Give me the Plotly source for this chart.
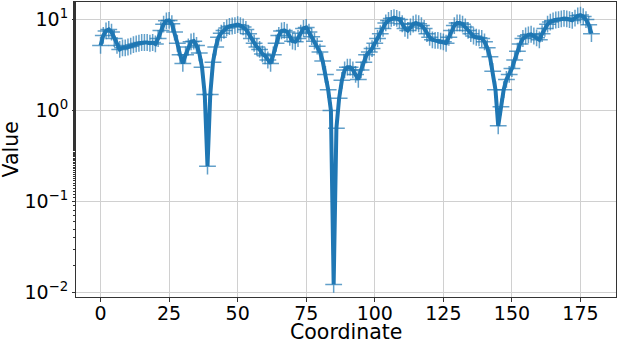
import plotly.graph_objects as go

coordinate = list(range(180))
value = [
    5.2, 6.7, 7.5, 7.8, 7.3, 6.2, 5.2, 4.7, 4.9, 4.9,
    5.0, 5.1, 5.3, 5.4, 5.5, 5.6, 5.6, 5.6, 5.5, 5.6,
    5.4, 6.2, 7.6, 8.9, 9.7, 9.8, 9.0, 7.3, 5.5, 4.1,
    3.3, 4.1, 5.0, 5.7, 5.8, 5.2, 4.3, 3.0, 1.5, 0.245,
    1.5, 3.4, 5.0, 6.4, 7.1, 7.6, 8.1, 8.4, 8.5, 8.6,
    8.8, 8.6, 8.3, 7.8, 7.0, 6.2, 5.5, 5.0, 4.7, 4.2,
    4.0, 3.6, 3.3, 4.1, 5.5, 6.7, 7.5, 7.6, 7.3, 6.4,
    5.8, 5.7, 6.2, 7.1, 8.0, 8.2, 7.3, 6.5, 5.8, 5.1,
    4.4, 3.5, 2.5, 1.7, 1.0, 0.0123, 0.64, 1.37, 2.15, 2.8,
    3.0, 3.0, 2.8, 2.5, 2.2, 2.8, 3.4, 4.1, 4.4, 4.8,
    5.5, 6.2, 7.0, 8.0, 9.2, 9.8, 10.3, 10.5, 10.3, 10.0,
    9.0, 8.0, 7.6, 8.3, 8.9, 9.2, 9.0, 8.6, 8.0, 7.0,
    6.4, 6.0, 5.9, 5.9, 5.8, 5.7, 5.5, 6.4, 7.6, 8.6,
    9.2, 9.2, 8.9, 8.3, 7.6, 7.0, 6.6, 6.4, 6.3, 6.2,
    5.7, 4.9, 3.9, 2.7, 1.7, 0.68, 1.1, 1.7, 2.2, 2.5,
    2.9, 3.6, 4.5, 5.4, 6.2, 6.6, 6.8, 6.9, 6.6, 6.3,
    6.0, 7.0, 8.0, 8.9, 9.4, 9.7, 9.9, 10.0, 10.2, 10.3,
    10.2, 10.0, 9.8, 10.4, 11.0, 11.2, 10.8, 10.0, 8.8, 7.0,
]

x_ticks = [0, 25, 50, 75, 100, 125, 150, 175]
y_ticks = [0.01, 0.1, 1, 10]
y_tick_text = ["10<sup>\u22122</sup>", "10<sup>\u22121</sup>", "10<sup>0</sup>", "10<sup>1</sup>"]
x_title = "Coordinate"
y_title = "Value"

FONT = "DejaVu Sans"
C0 = "#1f77b4"

fig = go.Figure()
fig.add_trace(go.Scatter(
    x=coordinate, y=value, mode="lines+markers",
    line=dict(color=C0, width=4),
    marker=dict(symbol="cross-thin", size=12,
                line=dict(color="rgba(31,119,180,0.7)", width=1.5)),
    showlegend=False, hoverinfo="skip",
))

fig.update_layout(
    template="none",
    width=618, height=342,
    margin=dict(l=76, r=2, t=2, b=45),
    paper_bgcolor="white", plot_bgcolor="white",
    font=dict(family=FONT, color="black", size=19),
    annotations=[
        dict(text=x_title, xref="paper", yref="paper", x=0.5, y=-(332 - 296.7) / 295,
             xanchor="center", yanchor="middle", showarrow=False,
             font=dict(size=20.5, family=FONT, color="black")),
        dict(text=y_title, xref="paper", yref="paper", x=(10 - 76) / 540, y=0.5,
             xanchor="center", yanchor="middle", textangle=-90, showarrow=False,
             font=dict(size=20.5, family=FONT, color="black")),
    ],
)
fig.update_xaxes(
    range=[-8.95, 187.95], tickmode="array", tickvals=x_ticks,
    ticks="outside", ticklen=4, tickcolor="#333", tickwidth=1,
    ticklabelstandoff=-5,
    showgrid=True, gridcolor="#d0d0d0", gridwidth=1,
    showline=True, linecolor="#333", linewidth=1, mirror=True,
    zeroline=False, automargin=False,
    tickfont=dict(size=19, family=FONT),
)
fig.update_yaxes(
    type="log", range=[-2.048, 1.1934], tickmode="array",
    tickvals=y_ticks, ticktext=y_tick_text,
    ticks="outside", ticklen=3, tickcolor="#333", tickwidth=1,
    minor=dict(ticks="outside", ticklen=2, tickcolor="#333", showgrid=False),
    showgrid=True, gridcolor="#d0d0d0", gridwidth=1,
    showline=True, linecolor="#333", linewidth=1, mirror=True,
    zeroline=False, automargin=False,
    tickfont=dict(size=19, family=FONT),
)

fig.write_html("out.html", config={"displayModeBar": False},
               post_script="document.body.style.margin='0';")
